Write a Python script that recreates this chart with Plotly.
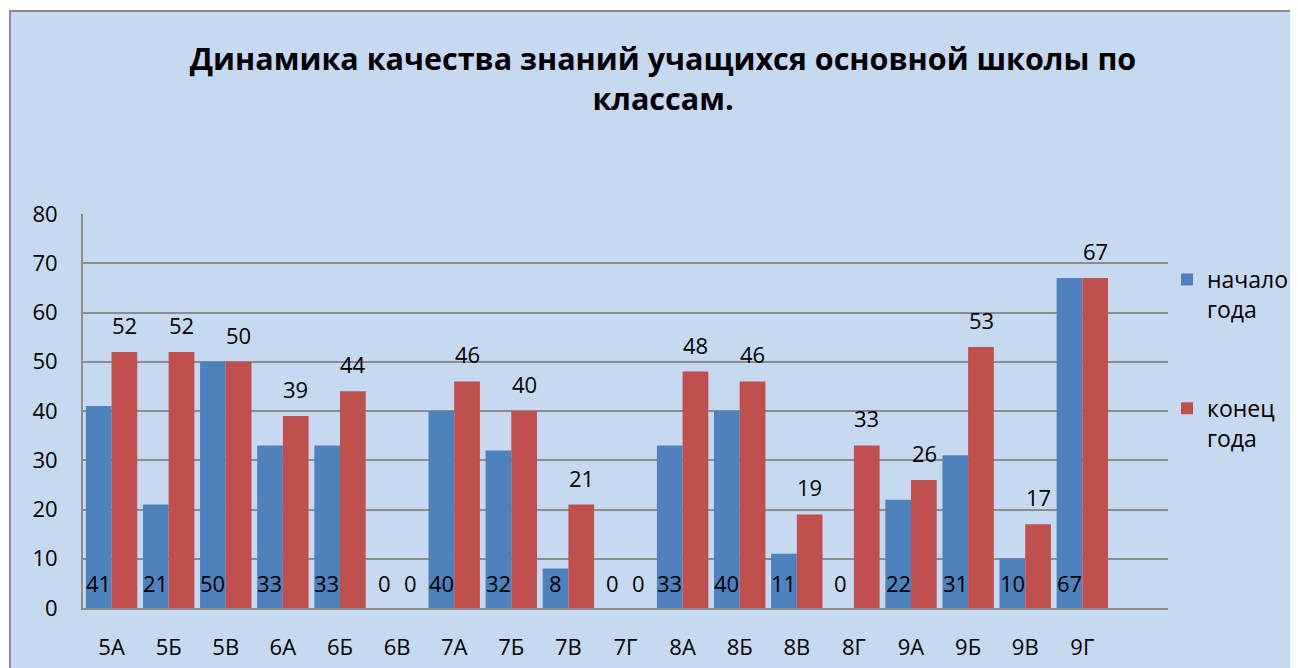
import plotly.graph_objects as go

classes = ["5А", "5Б", "5В", "6А", "6Б", "6В", "7А", "7Б", "7В", "7Г",
           "8А", "8Б", "8В", "8Г", "9А", "9Б", "9В", "9Г"]
start_year = [41, 21, 50, 33, 33, 0, 40, 32, 8, 0, 33, 40, 11, 0, 22, 31, 10, 67]
end_year = [52, 52, 50, 39, 44, 0, 46, 40, 21, 0, 48, 46, 19, 33, 26, 53, 17, 67]
y_ticks = [0, 10, 20, 30, 40, 50, 60, 70, 80]

title_text = "Динамика качества знаний учащихся основной школы по<br>классам."
name_start = "начало<br>года"
name_end = "конец<br>года"

BLUE = "#4F81BD"
RED = "#C0504D"
BG = "#C6D9F1"
GRID = "#8C8C8C"
FONT = "Open Sans"

# page has an 8px body margin, so the figure is sized to fit the window
OFF = 8
W, H = 1298 - OFF, 668 - OFF
L, R, T = 83 - OFF, 130, 214 - OFF
B = H - (608 - OFF)
pw, ph = W - L - R, H - T - B


def px_x(px):
    return (px - OFF - L) / pw


def px_y(py):
    return (H - B - (py - OFF)) / ph


def cx(px):
    return (px - OFF) / W


def cy(py):
    return 1 - (py - OFF) / H


fig = go.Figure()
fig.add_trace(go.Bar(x=classes, y=start_year, name=name_start, marker_color=BLUE,
                     marker_line_width=0, legendgroup="a"))
fig.add_trace(go.Bar(x=classes, y=end_year, name=name_end, marker_color=RED,
                     marker_line_width=0, legendgroup="b"))

ann = []
for c, v in zip(classes, start_year):
    ann.append(dict(x=c, y=0, text=str(v), showarrow=False, xshift=-13, yshift=25,
                    yanchor="middle", font=dict(size=22, color="black", family=FONT)))
for c, v in zip(classes, end_year):
    ann.append(dict(x=c, y=v, text=str(v), showarrow=False, xshift=13,
                    yshift=27 if v > 0 else 25,
                    yanchor="middle", font=dict(size=22, color="black", family=FONT)))

shapes = [
    # white strip above the chart frame
    dict(type="rect", xref="paper", yref="paper",
         x0=px_x(-20), x1=px_x(1320), y0=px_y(11), y1=px_y(-20),
         fillcolor="white", line_width=0, layer="below"),
    # white strip left of the chart frame
    dict(type="rect", xref="paper", yref="paper",
         x0=px_x(-20), x1=px_x(10), y0=px_y(700), y1=px_y(-20),
         fillcolor="white", line_width=0, layer="below"),
    # chart frame
    dict(type="rect", xref="paper", yref="paper",
         x0=px_x(10), x1=px_x(1310), y0=px_y(700), y1=px_y(11),
         fillcolor=BG, line=dict(color="#8C8C8C", width=2), layer="below"),
]

fig.update_layout(
    width=W, height=H,
    margin=dict(l=L, r=R, t=T, b=B, autoexpand=False),
    paper_bgcolor=BG,
    plot_bgcolor=BG,
    barmode="group",
    bargap=0.1,
    bargroupgap=0,
    font=dict(family=FONT, size=22, color="black"),
    title=dict(text=title_text, x=cx(663), xanchor="center", xref="container",
               y=1 - 62 / H, yanchor="middle", yref="container",
               font=dict(family=FONT, size=30.5, color="black", weight="bold")),
    xaxis=dict(type="category", range=[-0.5, 18.5], showgrid=False,
               showline=True, linecolor=GRID, linewidth=2, ticks="",
               ticklabelstandoff=19, tickfont=dict(size=22), automargin=False),
    yaxis=dict(range=[0, 80], tickvals=y_ticks, showgrid=True, gridcolor=GRID,
               gridwidth=1.5, showline=True, linecolor=GRID, linewidth=2,
               zeroline=False, ticks="", ticklabelstandoff=19,
               tickfont=dict(size=22), automargin=False),
    legend=dict(xref="container", yref="container", x=cx(1167), y=cy(258),
                xanchor="left", yanchor="top", bgcolor="rgba(0,0,0,0)",
                traceorder="grouped", tracegroupgap=66, valign="top",
                itemwidth=30, font=dict(size=23)),
    annotations=ann,
    shapes=shapes,
)

fig.write_html("out.html")
